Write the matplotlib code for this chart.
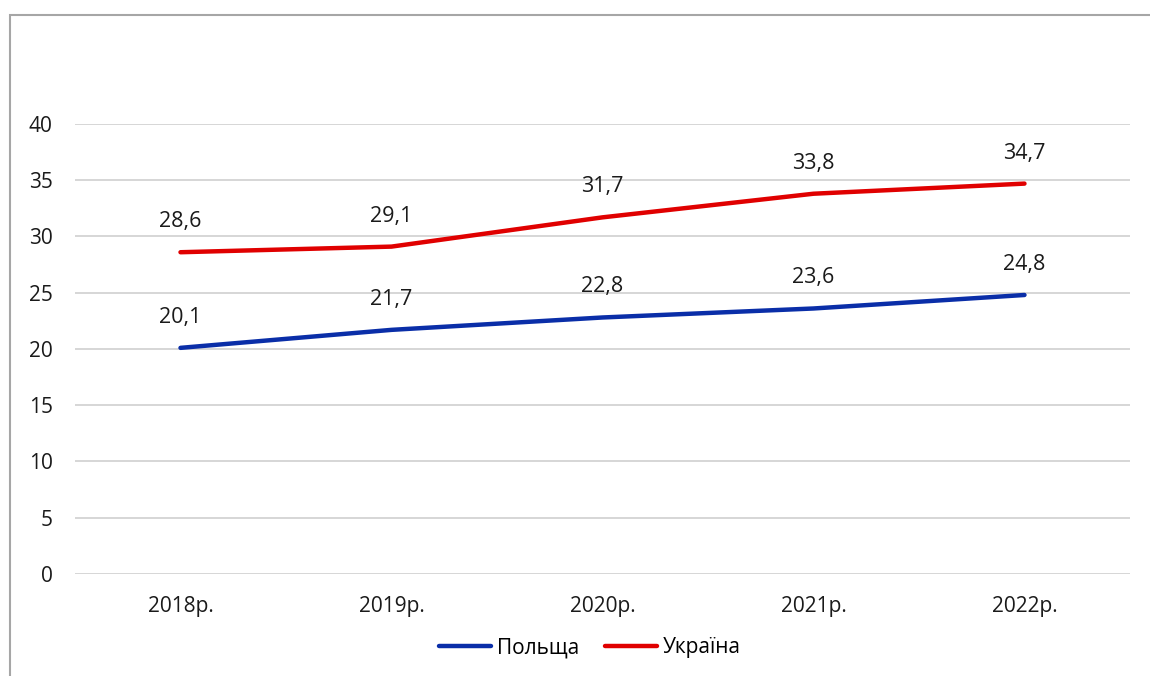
import matplotlib.pyplot as plt
from matplotlib.patches import Rectangle

years = ["2018р.", "2019р.", "2020р.", "2021р.", "2022р."]
poland = [20.1, 21.7, 22.8, 23.6, 24.8]
ukraine = [28.6, 29.1, 31.7, 33.8, 34.7]
yticks = [0, 5, 10, 15, 20, 25, 30, 35, 40]

plt.rcParams["font.family"] = ["Open Sans", "DejaVu Sans"]

fig = plt.figure(figsize=(11.5, 6.76), dpi=100)
ax = fig.add_axes([0.0652, 0.1509, 0.9174, 0.6657])

# outer chart frame
fig.patches.append(Rectangle((10 / 1150, -0.05), 1.2, 1 - 15 / 676 + 0.05,
                             transform=fig.transFigure, fill=False,
                             edgecolor="#a6a6a6", linewidth=1.5))

x = range(len(years))
ax.plot(x, poland, color="#0a2ea8", linewidth=3.2, solid_capstyle="round", label="Польща")
ax.plot(x, ukraine, color="#e00000", linewidth=3.2, solid_capstyle="round", label="Україна")

for xi, v in zip(x, poland):
    ax.annotate(f"{v:.1f}".replace(".", ","), (xi, v), xytext=(0, 22),
                textcoords="offset points", ha="center", va="center",
                fontsize=15.5, color="#1a1a1a")
for xi, v in zip(x, ukraine):
    ax.annotate(f"{v:.1f}".replace(".", ","), (xi, v), xytext=(0, 22),
                textcoords="offset points", ha="center", va="center",
                fontsize=15.5, color="#1a1a1a")

ax.set_xlim(-0.5, 4.5)
ax.set_ylim(0, 40)
ax.set_yticks(yticks)
ax.set_xticks(list(x))
ax.set_xticklabels(years)
ax.grid(axis="y", color="#d0d0d0", linewidth=1.2)
ax.set_axisbelow(True)
for s in ax.spines.values():
    s.set_visible(False)
ax.tick_params(length=0, labelsize=15, colors="#1a1a1a")
ax.tick_params(axis="y", pad=16)
ax.tick_params(axis="x", pad=16)

ax.legend(loc="center", bbox_to_anchor=(590 / 1150, 1 - 648 / 676),
          bbox_transform=fig.transFigure, ncol=2, frameon=False, fontsize=15,
          handlelength=2.5, handletextpad=0.3, columnspacing=1.2)

fig.savefig("out.png", dpi=100)
